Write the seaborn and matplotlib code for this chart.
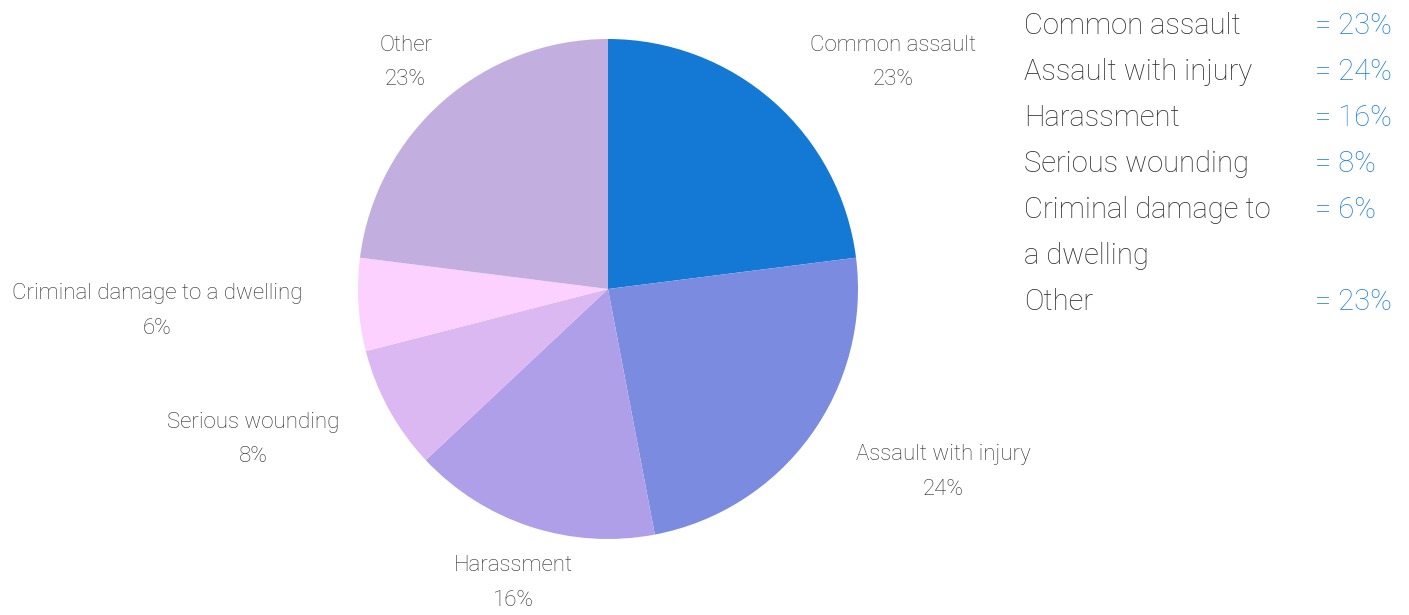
import numpy as np
import matplotlib
matplotlib.use("Agg")
import matplotlib.pyplot as plt
import seaborn as sns

categories = ["Common assault", "Assault with injury", "Harassment",
              "Serious wounding", "Criminal damage to a dwelling", "Other"]
values = [23, 24, 16, 8, 6, 23]
legend_labels = ["Common assault", "Assault with injury", "Harassment",
                 "Serious wounding", "Criminal damage to\na dwelling", "Other"]
colors = ["#1479d4", "#7b8ce0", "#af9fe9", "#dcb8f3", "#fcd1ff", "#c2afdf"]

sns.set_theme(style="white")
plt.rcParams['font.family'] = ['Roboto', 'DejaVu Sans']

W, H = 1409, 615
fig = plt.figure(figsize=(W / 100, H / 100), dpi=100)
cx, cy, r = 608, 289, 250
ax = fig.add_axes([(cx - r) / W, (H - cy - r) / H, 2 * r / W, 2 * r / H])
palette = sns.color_palette(colors)
wedges, _ = ax.pie(values, colors=palette, startangle=90, counterclock=False,
                   radius=1.0, wedgeprops=dict(linewidth=0))
ax.set_xlim(-1, 1)
ax.set_ylim(-1, 1)
ax.set_aspect("equal")
ax.axis("off")

fig.canvas.draw()
renderer = fig.canvas.get_renderer()
total = sum(values)
d = 1.224
for w, cat, v in zip(wedges, categories, values):
    ang = np.deg2rad((w.theta1 + w.theta2) / 2)
    c, s = np.cos(ang), np.sin(ang)
    t = ax.text(d * c, d * s - 0.012, f"{cat}\n{round(100 * v / total)}%", ha="center",
                va="center", multialignment="center", fontsize=16,
                color="#2b2b2b", fontweight="light", linespacing=1.85, clip_on=False)
    bb = t.get_window_extent(renderer).transformed(ax.transData.inverted())
    corners = [(bb.x0, bb.y0), (bb.x0, bb.y1), (bb.x1, bb.y0), (bb.x1, bb.y1)]
    if any(np.hypot(px, py) < 1.0 for px, py in corners):
        t.set_ha("left" if c > 0 else "right")

# right-hand summary list
y = 23
for lab, v in zip(legend_labels, values):
    lines = lab.split("\n")
    fig.text(1315 / W, 1 - y / H, f"= {v}%", ha="left", va="center_baseline",
             fontsize=21, color="#1e7fd8", fontweight="light")
    for ln in lines:
        fig.text(1024 / W, 1 - y / H, ln, ha="left", va="center_baseline",
                 fontsize=21, color="#2b2b2b", fontweight="light")
        y += 46

fig.savefig("out.png", dpi=100)
